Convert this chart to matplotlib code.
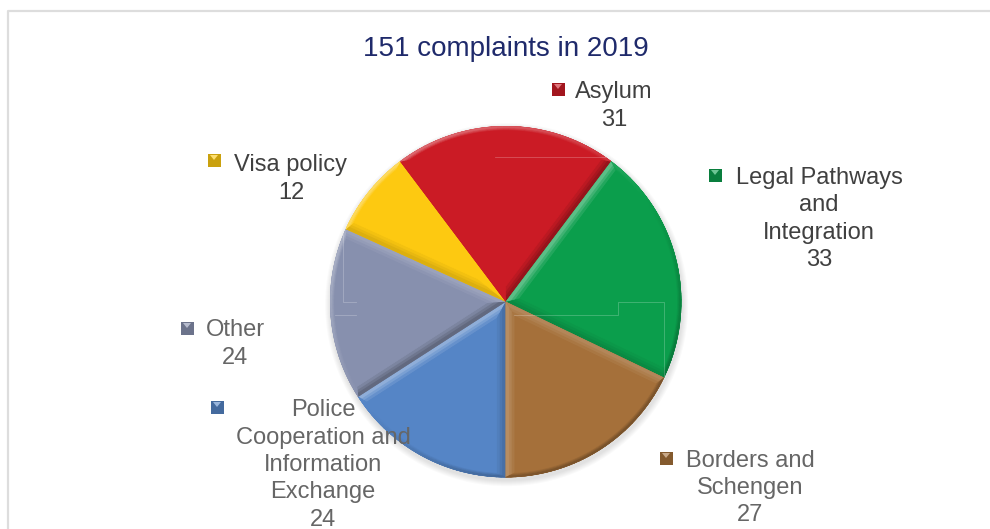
import numpy as np
import matplotlib
matplotlib.use("Agg")
from matplotlib import pyplot as plt
from matplotlib.colors import to_rgb
from matplotlib.patches import Polygon, Rectangle, Circle

# datos del grafico, en sentido horario desde abajo
labels = ["Police\nCooperation and\nInformation\nExchange", "Other", "Visa policy", "Asylum",
          "Legal Pathways\nand\nIntegration", "Borders and\nSchengen"]
values = [24, 24, 12, 31, 33, 27]
title = "151 complaints in 2019"

colors = ["#5585c6", "#8790ae", "#fdc911", "#cb1b25", "#0b9e4c", "#a5703a"]
text_colors = ["#666666", "#666666", "#404040", "#404040", "#404040", "#666666"]

# centro de cada texto y posicion del cuadrado de la leyenda (pixeles)
text_pos = [(323, 465), (235, 344), (291, 179), (614, 106), (819, 219), (750, 488)]
key_pos = [(217, 407), (187, 328), (214, 160), (558, 89), (715, 175), (666, 458)]

W, H = 990, 529
CX, CY, R = 505.7, 529 - 301.7, 175.5
# anchos del bisel (de ancho a fino) y su intensidad
BEVELS = [(9, 0.10), (6, 0.22), (3.5, 0.34)]


def shade(color, amount):
    c = np.array(to_rgb(color))
    if amount >= 0:
        return tuple(c + (1 - c) * amount)
    return tuple(c * (1 + amount))


def face_color(color, normal, strength):
    # luz desde arriba a la izquierda
    light = np.dot(normal, (-0.6, 0.8))
    return shade(color, strength * light * (1 if light > 0 else 0.8))


def unit(angle):
    return np.array([np.cos(np.radians(angle)), np.sin(np.radians(angle))])


fig = plt.figure(figsize=(W / 100, H / 100), dpi=100)
ax = fig.add_axes([0, 0, 1, 1])
center = np.array([CX, CY])

# sombra suave debajo del pastel
for k in range(6):
    ax.add_patch(Circle((CX + 1, CY - 3), R + 6 - k, color="#000000", alpha=0.02, lw=0, zorder=0))

wedges, _ = ax.pie(values, colors=colors, startangle=270, counterclock=False,
                   center=(CX, CY), radius=R, wedgeprops={"linewidth": 0})

for w, color in zip(wedges, colors):
    t1, t2 = w.theta1, w.theta2
    half = np.radians((t2 - t1) / 2)
    mid = (t1 + t2) / 2
    angles = np.linspace(t1, t2, 40)
    outer = [center + unit(a) * R for a in angles]
    for inset, strength in BEVELS:
        arc = inset * 0.45
        apex = center + unit(mid) * inset / np.sin(half)
        da = np.degrees(np.arcsin(inset / (R - arc)))
        inner_angles = np.linspace(t1 + da, t2 - da, 40)
        inner = [center + unit(a) * (R - arc) for a in inner_angles]
        # caras rectas del bisel
        ax.add_patch(Polygon([center, outer[0], inner[0], apex],
                             color=face_color(color, unit(t1 - 90), strength), lw=0, zorder=3))
        ax.add_patch(Polygon([center, outer[-1], inner[-1], apex],
                             color=face_color(color, unit(t2 + 90), strength), lw=0, zorder=3))
        # cara del arco
        for i in range(len(angles) - 1):
            ax.add_patch(Polygon([outer[i], outer[i + 1], inner[i + 1], inner[i]],
                                 color=face_color(color, unit((angles[i] + angles[i + 1]) / 2), strength),
                                 lw=0.3, zorder=3))
    inset = BEVELS[0][0]
    apex = center + unit(mid) * inset / np.sin(half)
    da = np.degrees(np.arcsin(inset / (R - inset * 0.45)))
    inner = [center + unit(a) * (R - inset * 0.45) for a in np.linspace(t1 + da, t2 - da, 40)]
    ax.add_patch(Polygon([apex] + inner, color=color, lw=0, zorder=4))

# lineas finas que aparecen sobre el pastel
ghost = "#ffffff"
ax.plot([495, 608], [H - 156.5, H - 156.5], color=ghost, lw=0.6, alpha=0.25, zorder=5)
ax.plot([343, 343, 356], [H - 232, H - 301.5, H - 301.5], color=ghost, lw=0.6, alpha=0.25, zorder=5)
ax.plot([335, 356], [H - 315, H - 315], color=ghost, lw=0.6, alpha=0.25, zorder=5)
ax.plot([514, 618, 618, 664, 664], [H - 315, H - 315, H - 301.5, H - 301.5, H - 376],
        color=ghost, lw=0.6, alpha=0.25, zorder=5)

# leyenda junto a cada sector
for name, val, color, tc, (tx, ty), (kx, ky) in zip(labels, values, colors, text_colors, text_pos, key_pos):
    ax.text(tx, H - ty, f"{name}\n{val}", ha="center", va="center", fontsize=17,
            family="Liberation Sans", color=tc, linespacing=1.32, zorder=6)
    y = H - ky
    ax.add_patch(Rectangle((kx - 6.5, y - 6.5), 13, 13, color=shade(color, -0.2), lw=0, zorder=6))
    ax.add_patch(Polygon([(kx - 4, y + 5), (kx + 4, y + 5), (kx, y)], color=shade(color, 0.4), lw=0, zorder=7))

ax.text(506, H - 49, title, ha="center", va="center", fontsize=20,
        family="Liberation Sans", color="#1f2a6b", zorder=6)

# marco gris
ax.plot([7.5, 7.5, W], [0, H - 10.5, H - 10.5], color="#dddddd", lw=1.6, zorder=1)

ax.set_xlim(0, W)
ax.set_ylim(0, H)
ax.set_aspect("auto")
ax.axis("off")
fig.savefig("out.png", dpi=100)
